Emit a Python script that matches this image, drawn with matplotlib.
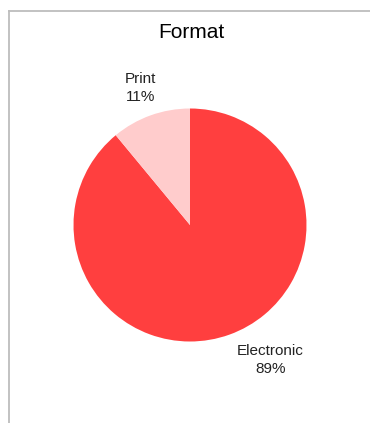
import matplotlib.pyplot as plt
from matplotlib.lines import Line2D

# Data
labels = ["Electronic", "Print"]
shares = [89, 11]
colors = ["#FF3F3F", "#FFCCCC"]

plt.rcParams['font.family'] = ['Liberation Sans Narrow', 'Liberation Sans', 'DejaVu Sans']

W, H = 370, 423
fig = plt.figure(figsize=(W / 100, H / 100), dpi=100)

# axes placed so the pie centre sits at (190, 225) px with radius ~116.5 px
r_px = 116.5
span = 1.5
size = 2 * span * r_px
ax = fig.add_axes([(190 - size / 2) / W, (H - 225 - size / 2) / H, size / W, size / H])

wedges, texts = ax.pie(shares, labels=[f"{l}\n{s}%" for l, s in zip(labels, shares)],
                       colors=colors, startangle=90, counterclock=False,
                       labeldistance=1.25, textprops=dict(fontsize=11, color="#222222",
                                                          ha="center", va="center",
                                                          linespacing=1.3))
# Excel-style label nudge for the big slice
texts[0].set_position((0.69, -1.16))
texts[0].set_ha("center")
texts[1].set_ha("center")
ax.set_xlim(-span, span)
ax.set_ylim(-span, span)
ax.axis("off")

fig.text(191 / W, 1 - 32 / H, "Format", ha="center", va="center", fontsize=15, color="#000000")

# chart frame (left and top edge visible)
fig.add_artist(Line2D([8.5 / W, 8.5 / W], [0, 1 - 11.5 / H], color="#BDBDBD", lw=1.3))
fig.add_artist(Line2D([8.5 / W, 1], [1 - 11.5 / H, 1 - 11.5 / H], color="#BDBDBD", lw=1.3))

fig.savefig("out.png", dpi=100)
